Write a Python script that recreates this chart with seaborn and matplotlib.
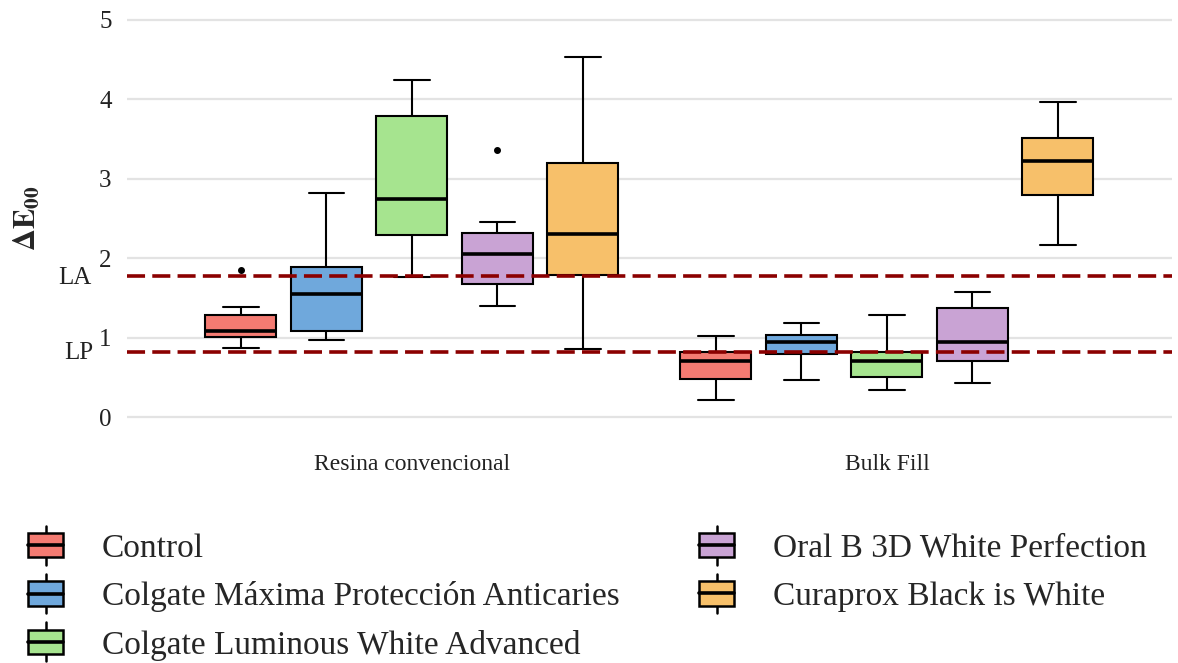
import pandas as pd
import matplotlib.pyplot as plt
import seaborn as sns
from matplotlib.legend_handler import HandlerBase
from matplotlib.patches import Rectangle, Patch
from matplotlib.lines import Line2D
import matplotlib.transforms as mtransforms

# groups and products
resins = ['Resina convencional', 'Bulk Fill']
products = ['Control', 'Colgate Máxima Protección Anticaries', 'Colgate Luminous White Advanced',
            'Oral B 3D White Perfection', 'Curaprox Black is White']
colors = ['#F47B72', '#6FA8DC', '#A6E48F', '#C9A3D4', '#F7C06A']

# values (9 per box: whisker, q1, median, q3, whisker / outlier)
conv_control = [0.875, 0.95, 1.005, 1.04, 1.08, 1.18, 1.285, 1.39, 1.85]
conv_maxima = [0.975, 1.03, 1.085, 1.30, 1.55, 1.72, 1.89, 2.30, 2.82]
conv_luminous = [1.76, 2.05, 2.29, 2.50, 2.74, 3.30, 3.79, 4.05, 4.24]
conv_oralb = [1.395, 1.55, 1.68, 1.90, 2.055, 2.20, 2.32, 2.46, 3.36]
conv_curaprox = [0.86, 1.40, 1.79, 2.00, 2.30, 2.80, 3.20, 3.90, 4.53]
bulk_control = [0.217, 0.35, 0.477, 0.60, 0.707, 0.76, 0.82, 0.93, 1.02]
bulk_maxima = [0.47, 0.65, 0.795, 0.87, 0.94, 0.99, 1.03, 1.10, 1.18]
bulk_luminous = [0.335, 0.42, 0.50, 0.60, 0.70, 0.76, 0.82, 1.05, 1.28]
bulk_oralb = [0.43, 0.57, 0.70, 0.82, 0.94, 1.15, 1.37, 1.48, 1.58]
bulk_curaprox = [2.17, 2.50, 2.80, 3.00, 3.22, 3.38, 3.51, 3.75, 3.97]

# reference limits
LA = 1.77
LP = 0.82

series = {
    ('Resina convencional', products[0]): conv_control,
    ('Resina convencional', products[1]): conv_maxima,
    ('Resina convencional', products[2]): conv_luminous,
    ('Resina convencional', products[3]): conv_oralb,
    ('Resina convencional', products[4]): conv_curaprox,
    ('Bulk Fill', products[0]): bulk_control,
    ('Bulk Fill', products[1]): bulk_maxima,
    ('Bulk Fill', products[2]): bulk_luminous,
    ('Bulk Fill', products[3]): bulk_oralb,
    ('Bulk Fill', products[4]): bulk_curaprox,
}
rows = []
for (resin, prod), vals in series.items():
    for v in vals:
        rows.append({'resin': resin, 'product': prod, 'dE': v})
df = pd.DataFrame(rows)

sns.set_style('white')
plt.rcParams['font.family'] = ['Liberation Serif', 'DejaVu Serif']
plt.rcParams['mathtext.fontset'] = 'stix'

fig = plt.figure(figsize=(11.78, 6.63), dpi=100)
ax = fig.add_axes([0.1078, 0.341, 0.887, 0.659])

sns.boxplot(data=df, x='resin', y='dE', hue='product', order=resins, hue_order=products,
            palette=colors, saturation=1, width=0.9, gap=0.17, linecolor='black', linewidth=1.5,
            fliersize=4, medianprops=dict(linewidth=2.6, color='black'),
            flierprops=dict(marker='o', markerfacecolor='black', markeredgecolor='black'),
            legend=False, ax=ax, zorder=2)

# limit lines
ax.axhline(LA, color='#8B0000', lw=2.6, ls=(0, (5, 2)), zorder=5)
ax.axhline(LP, color='#8B0000', lw=2.6, ls=(0, (5, 2)), zorder=5)

trans = mtransforms.blended_transform_factory(ax.transAxes, ax.transData)
ax.text(-0.034, LA - 0.02, 'LA', transform=trans, ha='right', va='center', fontsize=18, color='#222222')
ax.text(-0.032, LP - 0.01, 'LP', transform=trans, ha='right', va='center', fontsize=18, color='#222222')

ax.set_ylim(-0.25, 5.25)
ax.set_xlim(-0.6, 1.6)
ax.set_yticks([0, 1, 2, 3, 4, 5])
ax.yaxis.grid(True, color='#E3E3E3', lw=1.6, zorder=0)
ax.set_axisbelow(True)
for s in ax.spines.values():
    s.set_visible(False)
ax.tick_params(axis='y', length=0, pad=11, labelsize=18, labelcolor='#222222')
ax.tick_params(axis='x', length=0, pad=12, labelsize=17, labelcolor='#222222')
ax.set_xlabel('')
ax.set_ylabel(r'$\mathbf{\Delta E}_{\mathbf{00}}$', fontsize=22)
ax.yaxis.set_label_coords(-0.081, 0.50)


class BoxHandler(HandlerBase):
    def create_artists(self, legend, orig_handle, xdescent, ydescent, width, height, fontsize, trans):
        fc = orig_handle.get_facecolor()
        x0, y0 = -xdescent, -ydescent
        cx = x0 + width / 2
        box = Rectangle((x0, y0), width, height, facecolor=fc, edgecolor='black', lw=1.8, transform=trans)
        med = Line2D([x0, x0 + width], [y0 + height / 2] * 2, color='black', lw=2.6, transform=trans)
        w1 = Line2D([cx, cx], [y0 + height, y0 + height * 1.3], color='black', lw=1.8, transform=trans)
        w2 = Line2D([cx, cx], [y0, y0 - height * 0.3], color='black', lw=1.8, transform=trans)
        return [w1, w2, box, med]


handles = [Patch(facecolor=c) for c in colors]
fig.legend(handles, products, loc='upper left', bbox_to_anchor=(0.024, 0.196), ncol=2, frameon=False,
           fontsize=24, handler_map={Patch: BoxHandler()}, handlelength=1.05, handleheight=0.75,
           handletextpad=1.15, columnspacing=2.4, labelspacing=0.52, borderpad=0, borderaxespad=0)

plt.savefig('out.png', dpi=100)
